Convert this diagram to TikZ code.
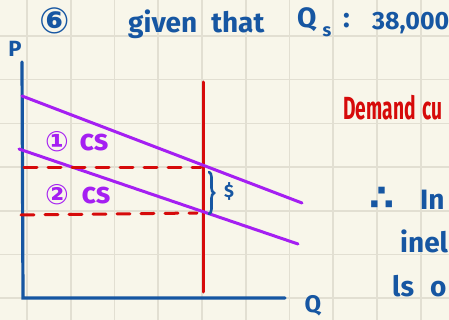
\documentclass[tikz,border=0pt]{standalone}
\usepackage{fontspec}
\setmainfont{Fira Sans}
\newfontfamily\symfont{DejaVu Sans}
\usetikzlibrary{decorations.pathreplacing,positioning}
\definecolor{paper}{HTML}{F8F6EA}
\definecolor{gridline}{HTML}{E2DFD2}
\definecolor{inkblue}{HTML}{1656A2}
\definecolor{inkpurple}{HTML}{A51FF2}
\definecolor{inkred}{HTML}{D60A0A}

\begin{document}
\begin{tikzpicture}[
x=1pt, y=-1pt,
axis/.style={draw=inkblue, line width=3.2pt, line cap=round},
demand/.style={draw=inkpurple, line width=3pt, line cap=round},
supply/.style={draw=inkred, line width=3pt, line cap=round},
pricelevel/.style={draw=inkred, line width=3pt, line cap=round, dash pattern=on 13pt off 11pt},
blueink/.style={text=inkblue, inner sep=0pt, font=\bfseries\fontsize{28}{30}\selectfont},
purpleink/.style={text=inkpurple, inner sep=0pt, font=\bfseries\fontsize{30}{32}\selectfont},
redink/.style={text=inkred, inner sep=0pt, font=\bfseries\fontsize{32}{34}\selectfont}
]
\fill[paper] (0,0) rectangle (449,320);
\useasboundingbox (0,0) rectangle (449,320);
\clip (0,0) rectangle (449,320);
\foreach \gx in {0,...,9}
  \draw[gridline, line width=1.6pt] ({27+43.75*\gx},0) -- ({27+43.75*\gx},320);
\foreach \gy in {0,...,7}
  \draw[gridline, line width=1.6pt] (0,{-7.7+43.7*\gy}) -- (449,{-7.7+43.7*\gy});

% heading
\node[blueink, font=\symfont\bfseries\fontsize{36}{36}\selectfont] (qnum) at (55,21) {⑥};
\node[blueink, anchor=base west] (given) at (128,33) {given\hspace{14pt}that};
\node[blueink, anchor=base west] (qs) at (297,28) {Q\hspace{6pt}\raisebox{-9pt}{\fontsize{18}{18}\selectfont s}};
\node[blueink, anchor=base west] (colon) at (343,28) {:};
\node[blueink, anchor=base west, font=\bfseries\fontsize{25}{27}\selectfont] (value) at (372,30) {38,000};

% axes
\coordinate (origin) at (23,298);
\coordinate (ptop) at (22,62);
\coordinate (qend) at (285,298);
\draw[axis] (ptop) -- (origin) -- (qend);
\node[blueink, font=\bfseries\fontsize{22}{22}\selectfont] (plabel) at (15,49) {P};
\node[blueink, font=\bfseries\fontsize{24}{24}\selectfont] (qlabel) at (313,306) {Q};

% supply and demand
\coordinate (stop) at (203,82);
\coordinate (sbot) at (203,292);
\draw[supply] (stop) -- (sbot);
\coordinate (d1a) at (22,96);
\coordinate (d1b) at (302,203);
\coordinate (d2a) at (19,149);
\coordinate (d2b) at (298,244);
\draw[demand] (d1a) -- (d1b);
\draw[demand] (d2a) -- (d2b);

% price levels
\coordinate (p1a) at (24,168);
\coordinate (p1b) at (201,168);
\coordinate (p2a) at (21,215);
\coordinate (p2b) at (197,213);
\draw[pricelevel] (p1a) -- (p1b);
\draw[pricelevel] (p2a) -- (p2b);

\coordinate (bra) at (209,172);
\coordinate (brb) at (209,214);
\draw[draw=inkblue, line width=2.6pt, line cap=round, decorate, decoration={brace, amplitude=5pt}] (bra) -- (brb);
\node[blueink, font=\bfseries\fontsize{18}{18}\selectfont] (gap) at (229,191) {\$};

% surplus labels
\node[purpleink, font=\symfont\bfseries\fontsize{28}{28}\selectfont] (one) at (57,142) {①};
\node[purpleink] (cs1) at (94,143) {cs};
\node[purpleink, font=\symfont\bfseries\fontsize{28}{28}\selectfont] (two) at (57,195) {②};
\node[purpleink] (cs2) at (96,196) {cs};

% notes on the right
\node[redink, anchor=base west] (dem) at (343,120) {\scalebox{0.6}[1]{Demand\hspace{12pt}cu}};
\node[blueink, font=\symfont\bfseries\fontsize{36}{36}\selectfont] (ther) at (382,199) {∴};
\node[blueink, anchor=base west] (inl) at (420,210) {In};
\node[blueink, anchor=base west] (inel) at (400,252) {inel};
\node[blueink, anchor=base west] (iso) at (392,296) {ls\hspace{16pt}o};
\end{tikzpicture}
\end{document}
